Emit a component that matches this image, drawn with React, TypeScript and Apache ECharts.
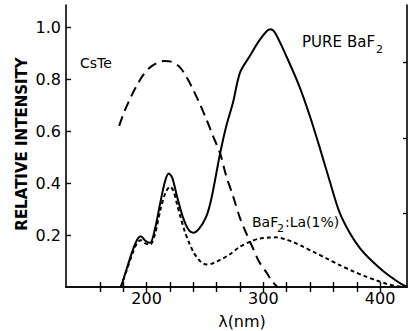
import React, { useEffect, useRef } from "react";
import * as echarts from "echarts";

// wavelength (nm), relative intensity
const pureBaF2: [number, number][] = [
  [178, 0], [183, 0.07], [188, 0.14], [192, 0.183], [195, 0.195], [199, 0.178], [203, 0.17],
  [207, 0.22], [212, 0.33], [216, 0.41], [219, 0.437], [222, 0.42], [226, 0.35], [231, 0.27],
  [236, 0.22], [240, 0.209], [245, 0.225], [251, 0.27], [255, 0.33], [259, 0.42], [263, 0.515],
  [268, 0.615], [274, 0.71], [280, 0.825], [288, 0.886], [296, 0.945], [303, 0.985], [306, 0.992],
  [310, 0.978], [320, 0.885], [331, 0.77], [340, 0.655], [348, 0.54], [357, 0.405], [365, 0.29],
  [374, 0.208], [383, 0.148], [393, 0.10], [403, 0.06], [412, 0.03], [418, 0.012], [423, 0],
];

const laDoped: [number, number][] = [
  [178, 0], [183, 0.065], [188, 0.13], [192, 0.17], [195, 0.18], [199, 0.168], [203, 0.163],
  [207, 0.2], [212, 0.3], [216, 0.36], [220, 0.386], [223, 0.37], [226, 0.32], [229, 0.27],
  [233, 0.21], [236, 0.175], [240, 0.135], [243, 0.115], [247, 0.095], [251, 0.087], [256, 0.09],
  [263, 0.104], [271, 0.125], [280, 0.155], [289, 0.175], [297, 0.187], [305, 0.19], [311, 0.191],
  [318, 0.185], [326, 0.172], [334, 0.155], [343, 0.135], [354, 0.11], [365, 0.085], [377, 0.06],
  [388, 0.04], [397, 0.025], [405, 0.013], [412, 0.005], [419, 0],
];

const csTe: [number, number][] = [
  [176.5, 0.62], [181, 0.675], [186, 0.726], [191, 0.77], [197, 0.815], [203, 0.845], [209, 0.862],
  [215, 0.87], [221, 0.867], [228, 0.848], [234, 0.81], [240, 0.758], [246, 0.7], [251.5, 0.642],
  [257, 0.58], [263, 0.514], [268, 0.43], [274, 0.35], [280, 0.265], [286, 0.2], [291, 0.15],
  [296, 0.1], [302, 0.06], [308, 0.02], [312, 0],
];

const xTicks = [160, 180, 200, 220, 240, 260, 280, 300, 320, 340, 360, 380, 400];
const xLabels = [200, 300, 400];
const yTicks = [0.2, 0.4, 0.6, 0.8, 1.0];
const yRightTicks = [0.285, 0.572, 0.866];

const FONT = "DejaVu Sans";

export default function App() {
  const ref = useRef<HTMLDivElement>(null);
  useEffect(() => {
    if (!ref.current) return;
    const chart = echarts.init(ref.current, null, { renderer: "svg" });
    const axisLine = { show: true, lineStyle: { color: "#000", width: 1.6 } };
    const tickStyle = { color: "#000", width: 1.4 };
    const txt = (text: string, x: number, y: number, size = 14, extra: any = {}) => ({
      type: "text",
      x,
      y,
      style: {
        text,
        fill: "#000",
        font: `${extra.weight || "normal"} ${size}px "${FONT}"`,
        textAlign: extra.align || "left",
        textVerticalAlign: "middle",
      },
      rotation: extra.rotation || 0,
    });
    chart.setOption({
      animation: false,
      grid: { left: 66, top: 5, right: 4, bottom: 44 },
      xAxis: [
        {
          type: "value", min: 131, max: 423, position: "bottom",
          axisLine,
          axisTick: { show: true, inside: true, length: 5, customValues: xTicks, lineStyle: tickStyle },
          axisLabel: { customValues: xLabels, margin: 3, fontSize: 16, color: "#000", fontFamily: FONT },
          splitLine: { show: false },
        },
        {
          type: "value", min: 131, max: 423, position: "top",
          axisLine,
          axisTick: { show: true, inside: true, length: 5, customValues: xTicks, lineStyle: tickStyle },
          axisLabel: { show: false },
          splitLine: { show: false },
        },
      ],
      yAxis: [
        {
          type: "value", min: 0, max: 1.085, position: "left",
          axisLine,
          axisTick: { show: true, inside: true, length: 5, customValues: yTicks, lineStyle: tickStyle },
          axisLabel: {
            customValues: yTicks, margin: 5, fontSize: 16, color: "#000", fontFamily: FONT,
            formatter: (v: number) => v.toFixed(1),
          },
          splitLine: { show: false },
        },
        {
          type: "value", min: 0, max: 1.085, position: "right",
          axisLine,
          axisTick: { show: true, inside: true, length: 4, customValues: yRightTicks, lineStyle: tickStyle },
          axisLabel: { show: false },
          splitLine: { show: false },
        },
      ],
      series: [
        {
          type: "line", data: pureBaF2, showSymbol: false, smooth: 0.3,
          lineStyle: { color: "#000", width: 2, type: "solid" },
        },
        {
          type: "line", data: laDoped, showSymbol: false, smooth: 0.3,
          lineStyle: { color: "#000", width: 2, type: [4, 3] },
        },
        {
          type: "line", data: csTe, showSymbol: false, smooth: 0.3,
          lineStyle: { color: "#000", width: 2, type: [10, 6] },
        },
      ],
      graphic: [
        txt("RELATIVE INTENSITY", 22, 144, 15, { weight: "bold", align: "center", rotation: Math.PI / 2 }),
        txt("λ(nm)", 242, 321, 16, { align: "center" }),
        txt("CsTe", 80, 63, 14),
        txt("PURE", 302, 42, 15),
        txt("BaF", 347, 42, 15),
        txt("2", 376, 49, 11),
        txt("BaF", 252, 222, 14),
        txt("2", 277, 228, 11),
        txt(":La(1%)", 285, 222, 14),
      ],
    });
    return () => chart.dispose();
  }, []);
  return <div ref={ref} style={{ width: 411, height: 331, position: "absolute", left: 0, top: 0 }} />;
}
